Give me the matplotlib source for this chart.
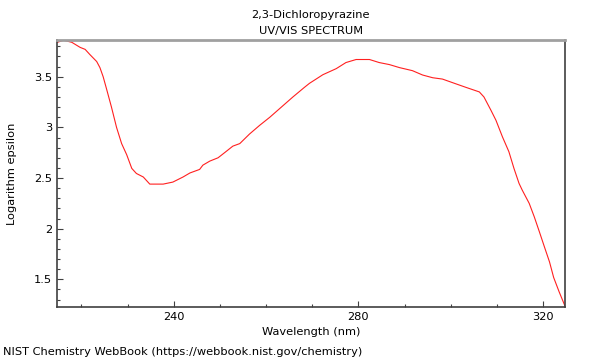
import matplotlib
matplotlib.use('Agg')
import matplotlib.pyplot as plt
from matplotlib.ticker import MultipleLocator

# spectrum
wavelength = [214.8, 216.1, 217.9, 219.7, 220.8, 221.8, 223.3, 224.0, 224.7, 225.4,
              226.5, 227.6, 228.7, 229.8, 230.9, 231.9, 233.4, 234.8, 237.7, 239.8,
              242.0, 243.5, 245.6, 246.3, 247.8, 249.6, 251.0, 252.8, 254.3, 256.4,
              258.6, 260.8, 263.3, 265.8, 268.3, 269.4, 272.3, 275.2, 277.3, 279.5,
              282.4, 284.5, 286.7, 288.9, 291.7, 293.9, 296.1, 298.2, 300.8, 303.3,
              306.2, 307.2, 308.7, 309.8, 311.2, 312.6, 313.7, 314.8, 315.5, 317.0,
              318.1, 319.2, 320.3, 321.4, 322.3, 323.5, 324.9]
log_eps = [3.84, 3.86, 3.84, 3.79, 3.77, 3.72, 3.65, 3.59, 3.50, 3.385,
           3.20, 3.00, 2.84, 2.73, 2.595, 2.545, 2.51, 2.44, 2.44, 2.46,
           2.51, 2.55, 2.585, 2.627, 2.667, 2.70, 2.75, 2.815, 2.84, 2.934,
           3.02, 3.10, 3.20, 3.30, 3.395, 3.435, 3.52, 3.58, 3.64, 3.67,
           3.67, 3.64, 3.62, 3.59, 3.56, 3.517, 3.49, 3.477, 3.435, 3.395,
           3.35, 3.30, 3.17, 3.07, 2.907, 2.76, 2.595, 2.447, 2.38, 2.25,
           2.117, 1.97, 1.82, 1.672, 1.518, 1.375, 1.22]

fig = plt.figure(figsize=(6, 3.6), dpi=100)
ax = fig.add_axes([0.095, 0.147, 0.847, 0.742])
ax.plot(wavelength, log_eps, color='#ff2020', linewidth=0.8)

ax.set_xlim(214.7, 324.8)
ax.set_ylim(1.226, 3.863)
ax.xaxis.set_major_locator(MultipleLocator(40))
ax.xaxis.set_minor_locator(MultipleLocator(10))
ax.yaxis.set_major_locator(MultipleLocator(0.5))
ax.yaxis.set_minor_locator(MultipleLocator(0.1))
ax.yaxis.set_major_formatter(plt.FuncFormatter(lambda v, p: '%g' % v))
ax.tick_params(which='both', direction='in', labelsize=8.2, colors='#404040',
               labelcolor='black')
ax.tick_params(which='major', length=4, width=0.8)
ax.tick_params(which='minor', length=2, width=0.8)

ax.spines['top'].set_color('#a0a0a0')
ax.spines['top'].set_linewidth(2)
for s in ['left', 'right', 'bottom']:
    ax.spines[s].set_color('#404040')
    ax.spines[s].set_linewidth(1.2)

ax.set_xlabel('Wavelength (nm)', fontsize=8.2, labelpad=4)
ax.set_ylabel('Logarithm epsilon', fontsize=8.2, labelpad=12)
fig.text(0.518, 0.958, '2,3-Dichloropyrazine', ha='center', va='center', fontsize=8.2)
fig.text(0.518, 0.914, 'UV/VIS SPECTRUM', ha='center', va='center', fontsize=8.2)
fig.text(0.005, 0.022, 'NIST Chemistry WebBook (https://webbook.nist.gov/chemistry)',
         ha='left', va='center', fontsize=8.2)

fig.savefig('out.png', dpi=100)
